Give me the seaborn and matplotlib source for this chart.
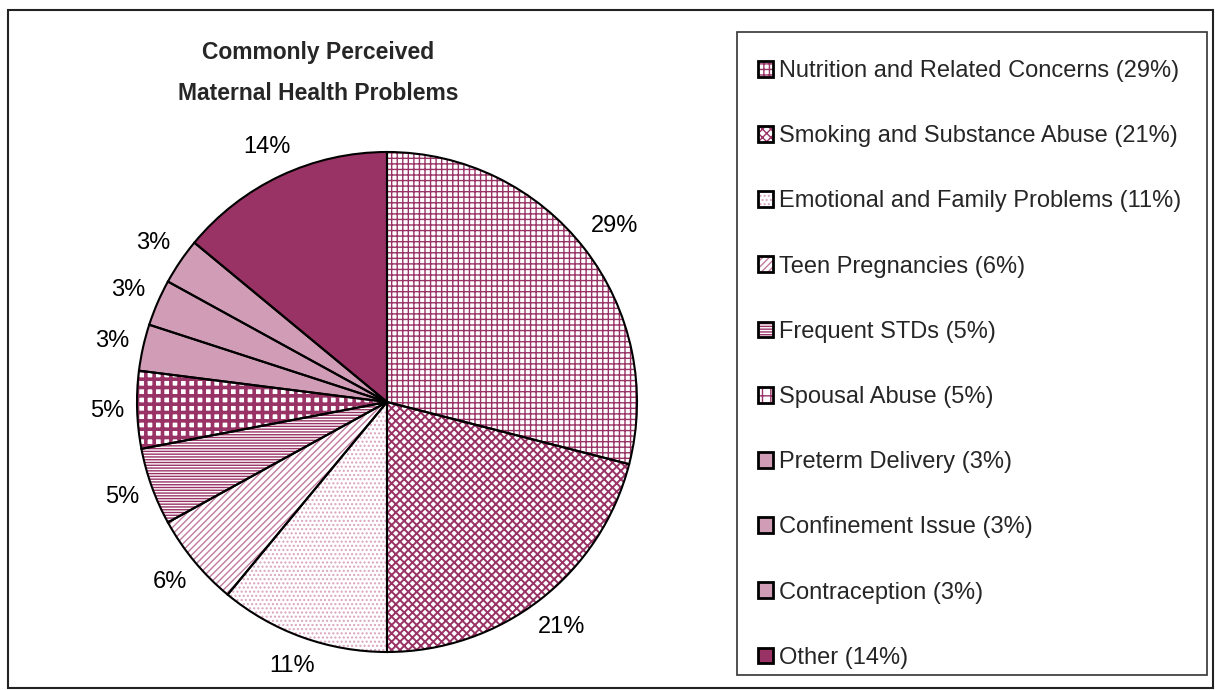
import matplotlib
matplotlib.use('Agg')
import numpy as np
import matplotlib.pyplot as plt
from matplotlib.patches import Rectangle, Patch
import seaborn as sns

categories = ['Nutrition and Related Concerns', 'Smoking and Substance Abuse',
              'Emotional and Family Problems', 'Teen Pregnancies', 'Frequent STDs',
              'Spousal Abuse', 'Preterm Delivery', 'Confinement Issue',
              'Contraception', 'Other']
shares = [29, 21, 11, 6, 5, 5, 3, 3, 3, 14]

plum = '#993366'
face_colors = ['white', 'white', 'white', 'white', 'white',
               'white', '#d09cb6', '#d09cb6', '#d09cb6', plum]
hatch_colors = [plum, plum, '#d9a3be', '#c27a9e', plum,
                plum, '#c48aa6', '#c48aa6', '#c48aa6', plum]
hatches = ['+++', 'xxxx', '....', '/////', '------',
           '++', '', '', '', '']
hatch_widths = [1.0, 1.4, 1.0, 1.0, 1.0, 2.6, 1.0, 1.0, 1.0, 1.0]

sns.set_theme(style='white')
plt.rcParams['font.family'] = ['Liberation Sans', 'DejaVu Sans']
plt.rcParams['hatch.linewidth'] = 1.0

fig = plt.figure(figsize=(12.15, 6.9), dpi=100)
W, H = 1215, 690

# pie axes: centre (387, 402) px, radius 250 px
cx, cy, R, k = 387, 402, 250, 1.3
ax = fig.add_axes([(cx - R * k) / W, (H - cy - R * k) / H, 2 * R * k / W, 2 * R * k / H])

# fill layer (hatch colour follows edge colour), then black outlines on top
fills, _, pct = ax.pie(shares, startangle=90, counterclock=False, radius=1,
                       autopct='%.0f%%', pctdistance=1.15,
                       textprops={'fontsize': 17, 'color': 'black'},
                       wedgeprops={'linewidth': 0})
for w, fc, hc, h, hw in zip(fills, face_colors, hatch_colors, hatches, hatch_widths):
    w.set_facecolor(fc)
    w.set_edgecolor(hc)
    w.set_linewidth(0)
    if h:
        w.set_hatch(h)
        if hasattr(w, 'set_hatch_linewidth'):
            w.set_hatch_linewidth(hw)
edges, _ = ax.pie(shares, startangle=90, counterclock=False, radius=1,
                  wedgeprops={'linewidth': 1.5, 'edgecolor': 'black', 'fill': False})
ax.set_xlim(-k, k)
ax.set_ylim(-k, k)
ax.set_aspect('equal')
ax.axis('off')

# place labels just outside the rim, like Excel "outside end"
fig.canvas.draw()
renderer = fig.canvas.get_renderer()
gap = 12
for w, t in zip(fills, pct):
    bb = t.get_window_extent(renderer)
    mid = np.deg2rad((w.theta1 + w.theta2) / 2)
    c, s = np.cos(mid), np.sin(mid)
    d = R + gap + abs(c) * bb.width / 2 + abs(s) * bb.height / 2
    t.set_position((d / R * c, d / R * s))

fig.text(318 / W, 1 - 53 / H, 'Commonly Perceived', ha='center', va='center',
         fontsize=16.5, fontweight='bold')
fig.text(318 / W, 1 - 93 / H, 'Maternal Health Problems', ha='center', va='center',
         fontsize=16.5, fontweight='bold')

# legend
handles = []
for fc, hc, h in zip(face_colors, hatch_colors, hatches):
    p1 = Patch(facecolor=fc, edgecolor=hc, linewidth=0, hatch=h if h else None)
    p2 = Patch(facecolor='none', edgecolor='black', linewidth=2)
    handles.append((p1, p2))
labels = ['%s (%d%%)' % (c, s) for c, s in zip(categories, shares)]
fig.legend(handles, labels, loc='upper left', bbox_to_anchor=(758 / W, 1 - 60 / H),
           frameon=False, fontsize=17, handlelength=0.65, handleheight=0.65,
           handletextpad=0.25, labelspacing=1.83, borderpad=0, borderaxespad=0)

fig.patches.append(Rectangle((737 / W, 1 - 675 / H), 470 / W, 643 / H,
                             transform=fig.transFigure, fill=False,
                             edgecolor='#333333', linewidth=1.2))
fig.patches.append(Rectangle((8 / W, 1 - 688 / H), 1205 / W, 678 / H,
                             transform=fig.transFigure, fill=False,
                             edgecolor='#222222', linewidth=1.5))

fig.savefig('out.png', dpi=100)
